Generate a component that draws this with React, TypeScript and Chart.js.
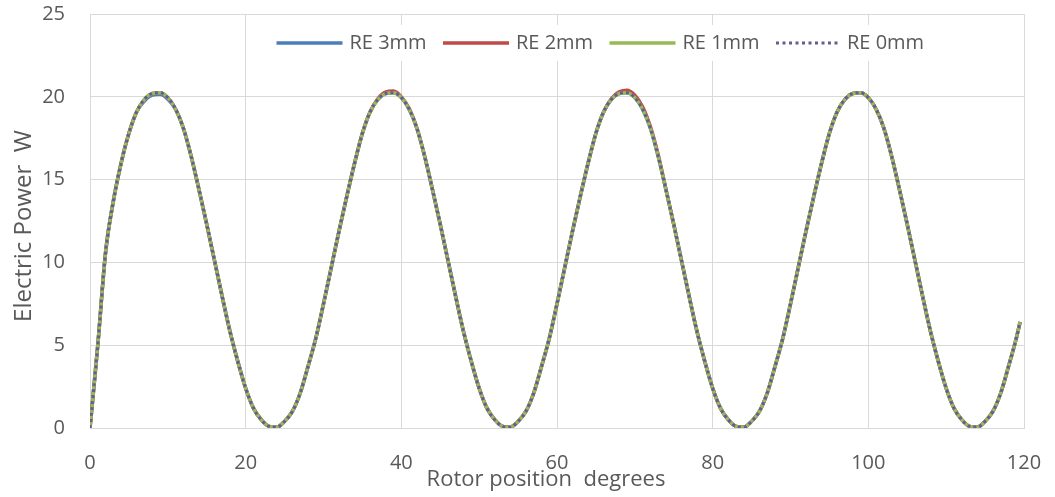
import React, { useEffect, useRef } from "react";
import { Chart, registerables } from "chart.js";

Chart.register(...registerables);

// Rotor position (degrees) sampling grid
const rotorDeg: number[] = [...Array.from({ length: 120 }, (_, i) => i), 119.5];

// Electric power (W) for each rotor eccentricity
const re3mm = [
  0, 5.0, 10.6, 13.7,
  16.0, 17.8, 19.1, 19.75, 20.1, 20.15, 19.85, 19.25, 18.1, 16.4, 14.4, 12.3, 10.1, 7.9, 5.8, 4.0, 2.4, 1.2, 0.5, 0.1,
  0.05, 0.4, 1.0, 2.1, 3.7, 5.4, 7.5, 9.7, 11.9, 14.0, 16.0, 17.8, 19.1, 19.85, 20.2, 20.25, 19.95, 19.25, 18.1, 16.4, 14.4, 12.3, 10.1, 7.9, 5.8, 4.0, 2.4, 1.2, 0.5, 0.1,
  0.05, 0.4, 1.0, 2.1, 3.7, 5.4, 7.5, 9.7, 11.9, 14.0, 16.0, 17.8, 19.1, 19.85, 20.2, 20.25, 19.95, 19.25, 18.1, 16.4, 14.4, 12.3, 10.1, 7.9, 5.8, 4.0, 2.4, 1.2, 0.5, 0.1,
  0.05, 0.4, 1.0, 2.1, 3.7, 5.4, 7.5, 9.7, 11.9, 14.0, 16.0, 17.8, 19.1, 19.85, 20.2, 20.25, 19.95, 19.25, 18.1, 16.4, 14.4, 12.3, 10.1, 7.9, 5.8, 4.0, 2.4, 1.2, 0.5, 0.1,
  0.05, 0.4, 1.0, 2.1, 3.7, 5.4, 6.4,
];
const re2mm = [
  0, 5.0, 10.6, 13.7,
  16.0, 17.8, 19.1, 19.85, 20.2, 20.25, 19.95, 19.25, 18.1, 16.4, 14.4, 12.3, 10.1, 7.9, 5.8, 4.0, 2.4, 1.2, 0.5, 0.1,
  0.05, 0.4, 1.0, 2.1, 3.7, 5.4, 7.5, 9.7, 11.9, 14.0, 16.0, 17.8, 19.1, 19.9, 20.3, 20.35, 20.0, 19.3, 18.1, 16.4, 14.4, 12.3, 10.1, 7.9, 5.8, 4.0, 2.4, 1.2, 0.5, 0.1,
  0.05, 0.4, 1.0, 2.1, 3.7, 5.4, 7.5, 9.7, 11.9, 14.0, 16.0, 17.8, 19.1, 19.9, 20.3, 20.4, 20.1, 19.4, 18.2, 16.5, 14.4, 12.3, 10.1, 7.9, 5.8, 4.0, 2.4, 1.2, 0.5, 0.1,
  0.05, 0.4, 1.0, 2.1, 3.7, 5.4, 7.5, 9.7, 11.9, 14.0, 16.0, 17.8, 19.1, 19.85, 20.2, 20.25, 19.95, 19.25, 18.1, 16.4, 14.4, 12.3, 10.1, 7.9, 5.8, 4.0, 2.4, 1.2, 0.5, 0.1,
  0.05, 0.4, 1.0, 2.1, 3.7, 5.4, 6.4,
];
const re1mm = [
  0, 5.0, 10.6, 13.7,
  16.0, 17.8, 19.1, 19.85, 20.2, 20.25, 19.95, 19.25, 18.1, 16.4, 14.4, 12.3, 10.1, 7.9, 5.8, 4.0, 2.4, 1.2, 0.5, 0.1,
  0.05, 0.4, 1.0, 2.1, 3.7, 5.4, 7.5, 9.7, 11.9, 14.0, 16.0, 17.8, 19.1, 19.85, 20.2, 20.25, 19.95, 19.25, 18.1, 16.4, 14.4, 12.3, 10.1, 7.9, 5.8, 4.0, 2.4, 1.2, 0.5, 0.1,
  0.05, 0.4, 1.0, 2.1, 3.7, 5.4, 7.5, 9.7, 11.9, 14.0, 16.0, 17.8, 19.1, 19.85, 20.2, 20.25, 19.95, 19.25, 18.1, 16.4, 14.4, 12.3, 10.1, 7.9, 5.8, 4.0, 2.4, 1.2, 0.5, 0.1,
  0.05, 0.4, 1.0, 2.1, 3.7, 5.4, 7.5, 9.7, 11.9, 14.0, 16.0, 17.8, 19.1, 19.85, 20.2, 20.25, 19.95, 19.25, 18.1, 16.4, 14.4, 12.3, 10.1, 7.9, 5.8, 4.0, 2.4, 1.2, 0.5, 0.1,
  0.05, 0.4, 1.0, 2.1, 3.7, 5.4, 6.4,
];
const re0mm = [
  0, 5.0, 10.6, 13.7,
  16.0, 17.8, 19.1, 19.85, 20.2, 20.25, 19.95, 19.25, 18.1, 16.4, 14.4, 12.3, 10.1, 7.9, 5.8, 4.0, 2.4, 1.2, 0.5, 0.1,
  0.05, 0.4, 1.0, 2.1, 3.7, 5.4, 7.5, 9.7, 11.9, 14.0, 16.0, 17.8, 19.1, 19.85, 20.2, 20.25, 19.95, 19.25, 18.1, 16.4, 14.4, 12.3, 10.1, 7.9, 5.8, 4.0, 2.4, 1.2, 0.5, 0.1,
  0.05, 0.4, 1.0, 2.1, 3.7, 5.4, 7.5, 9.7, 11.9, 14.0, 16.0, 17.8, 19.1, 19.85, 20.2, 20.25, 19.95, 19.25, 18.1, 16.4, 14.4, 12.3, 10.1, 7.9, 5.8, 4.0, 2.4, 1.2, 0.5, 0.1,
  0.05, 0.4, 1.0, 2.1, 3.7, 5.4, 7.5, 9.7, 11.9, 14.0, 16.0, 17.8, 19.1, 19.85, 20.2, 20.25, 19.95, 19.25, 18.1, 16.4, 14.4, 12.3, 10.1, 7.9, 5.8, 4.0, 2.4, 1.2, 0.5, 0.1,
  0.05, 0.4, 1.0, 2.1, 3.7, 5.4, 6.4,
];

const seriesNames = ["RE 3mm", "RE 2mm", "RE 1mm", "RE 0mm"];
const seriesValues = [re3mm, re2mm, re1mm, re0mm];
const seriesColors = ["#4a7ebb", "#be4b48", "#98b954", "#625c98"];
const seriesDotted = [false, false, false, true];

const xAxisTitle = "Rotor position  degrees";
const yAxisTitle = "Electric Power  W";

const FONT = "'Open Sans', Lato, sans-serif";
const TEXT = "#595959";
const GRID = "#d9d9d9";

const overlayText = {
  id: "overlayText",
  afterDraw(chart: any) {
    const ctx = chart.ctx;
    const area = chart.chartArea;
    ctx.save();

    // Axis titles
    ctx.fillStyle = TEXT;
    ctx.textBaseline = "alphabetic";
    ctx.textAlign = "center";
    ctx.font = `22px ${FONT}`;
    ctx.fillText(xAxisTitle, area.left + 456, area.bottom + 58);

    ctx.save();
    ctx.translate(31, area.top + 212);
    ctx.rotate(-Math.PI / 2);
    ctx.font = `24px ${FONT}`;
    ctx.fillText(yAxisTitle, 0, 0);
    ctx.restore();

    // Legend inside the plot area
    const cy = area.top + 29;
    ctx.fillStyle = "#ffffff";
    ctx.fillRect(area.left + 180, area.top + 11, 676, 36);
    ctx.font = `20px ${FONT}`;
    ctx.textBaseline = "middle";
    ctx.textAlign = "left";
    seriesNames.forEach((name, i) => {
      const x0 = area.left + 186.5 + 166.5 * i;
      ctx.beginPath();
      ctx.strokeStyle = seriesColors[i];
      if (seriesDotted[i]) {
        ctx.lineWidth = 3;
        ctx.setLineDash([3, 3.5]);
      } else {
        ctx.lineWidth = 3.5;
        ctx.setLineDash([]);
      }
      ctx.moveTo(x0, cy);
      ctx.lineTo(x0 + (seriesDotted[i] ? 62 : 66), cy);
      ctx.stroke();
      ctx.setLineDash([]);
      ctx.fillStyle = TEXT;
      ctx.fillText(name, x0 + (seriesDotted[i] ? 71 : 73), cy);
    });
    ctx.restore();
  },
};

export default function App() {
  const canvasRef = useRef<HTMLCanvasElement | null>(null);

  useEffect(() => {
    if (!canvasRef.current) return;
    const datasets = seriesNames.map((name, i) => ({
      label: name,
      data: rotorDeg.map((x, j) => ({ x, y: seriesValues[i][j] })),
      borderColor: seriesColors[i],
      backgroundColor: seriesColors[i],
      borderWidth: seriesDotted[i] ? 3 : 3.5,
      borderDash: seriesDotted[i] ? [3, 3] : [],
      pointRadius: 0,
      cubicInterpolationMode: "monotone" as const,
      fill: false,
      order: seriesNames.length - i,
    }));

    const chart = new Chart(canvasRef.current, {
      type: "line",
      data: { datasets },
      options: {
        animation: false,
        responsive: false,
        layout: { padding: { left: 0, right: 31, top: 14, bottom: 0 } },
        plugins: {
          legend: { display: false },
          tooltip: { enabled: false },
        },
        scales: {
          x: {
            type: "linear",
            min: 0,
            max: 120,
            ticks: {
              stepSize: 20,
              color: TEXT,
              font: { family: FONT, size: 20 },
              padding: 23,
              maxRotation: 0,
            },
            grid: { color: GRID, lineWidth: 1, drawTicks: false },
            border: { display: true, color: GRID },
            afterFit: (s: any) => {
              s.height = 69;
              s.paddingLeft = 0;
              s.paddingRight = 0;
            },
          },
          y: {
            min: 0,
            max: 25,
            ticks: {
              stepSize: 5,
              color: TEXT,
              font: { family: FONT, size: 20 },
              padding: 25,
            },
            grid: { color: GRID, lineWidth: 1, drawTicks: false },
            border: { display: true, color: GRID },
            afterFit: (s: any) => {
              s.width = 90;
              s.paddingTop = 0;
              s.paddingBottom = 0;
            },
          },
        },
      },
      plugins: [overlayText],
    });
    return () => chart.destroy();
  }, []);

  return (
    <div style={{ position: "fixed", left: 0, top: 0, width: 1055, height: 497, background: "#fff" }}>
      <canvas ref={canvasRef} width={1055} height={497} />
    </div>
  );
}
